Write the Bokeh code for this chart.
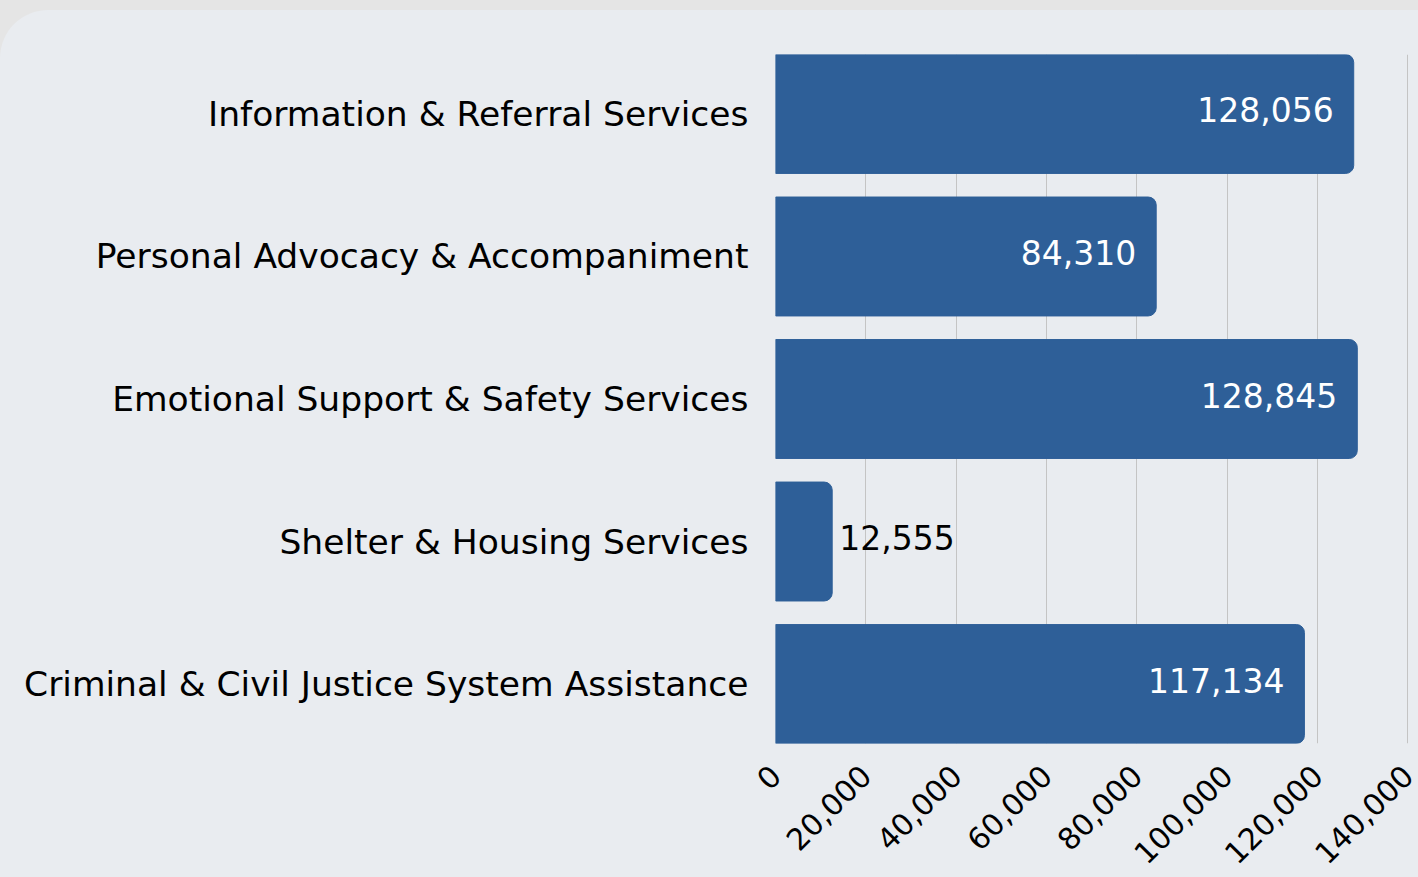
from bokeh.plotting import figure
from bokeh.layouts import column
from bokeh.models import ColumnDataSource, Range1d, FixedTicker, NumeralTickFormatter
from bokeh.core.properties import value
from bokeh.embed import file_html
from bokeh.resources import INLINE
import math

categories = [
    "Information & Referral Services",
    "Personal Advocacy & Accompaniment",
    "Emotional Support & Safety Services",
    "Shelter & Housing Services",
    "Criminal & Civil Justice System Assistance",
]
values = [128056, 84310, 128845, 12555, 117134]
x_ticks = [0, 20000, 40000, 60000, 80000, 100000, 120000, 140000]

FONT = "DejaVu Sans"
BAR = "#2e5f98"
PANEL = "#e9ecf0"
OUTER = "#e5e5e5"

n = len(categories)
ypos = list(range(n))
h = 0.8345

inside = [v > 20000 for v in values]
src = ColumnDataSource(dict(
    y=ypos,
    v=values,
    lab=[f"{v:,}" for v in values],
    col=["white" if i else "black" for i in inside],
    align=["right" if i else "left" for i in inside],
    xoff=[-20 if i else 7 for i in inside],
))

p = figure(width=1418, height=867, output_backend="svg", toolbar_location=None,
           x_range=Range1d(0, 142400), y_range=Range1d(n - 1 + h / 2, -h / 2),
           min_border_left=775, min_border_right=0, min_border_top=44, min_border_bottom=134)
p.background_fill_color = PANEL
p.border_fill_alpha = 0
p.outline_line_color = None
p.styles = {"background-color": PANEL, "border-top-left-radius": "48px"}

p.hbar(y="y", right="v", left=0, height=h, source=src, color=BAR,
       border_radius=(0, 8, 8, 0))

p.text(x="v", y="y", text="lab", source=src, text_color="col", text_align="align",
       x_offset="xoff", y_offset=-4, text_baseline="middle",
       text_font=value(FONT), text_font_size="33px")

p.xaxis.ticker = FixedTicker(ticks=x_ticks)
p.xaxis.formatter = NumeralTickFormatter(format="0,0")
p.xaxis.major_label_orientation = math.pi / 4
p.xaxis.axis_line_color = None
p.xaxis.major_tick_line_color = None
p.xaxis.minor_tick_line_color = None
p.xaxis.major_label_text_font = FONT
p.xaxis.major_label_text_font_size = "30px"
p.xaxis.major_label_text_color = "black"
p.xaxis.major_label_standoff = 21

p.yaxis.ticker = FixedTicker(ticks=ypos)
p.yaxis.major_label_overrides = {i: c for i, c in enumerate(categories)}
p.yaxis.axis_line_color = None
p.yaxis.major_tick_line_color = None
p.yaxis.minor_tick_line_color = None
p.yaxis.major_label_text_font = FONT
p.yaxis.major_label_text_font_size = "34.5px"
p.yaxis.major_label_text_color = "black"
p.yaxis.major_label_standoff = 21

p.xgrid.ticker = FixedTicker(ticks=x_ticks)
p.xgrid.grid_line_color = "#c4c4c4"
p.ygrid.grid_line_color = None

layout = column(p, styles={"background-color": OUTER, "padding-top": "10px"})

open("out.html", "w").write(file_html(layout, INLINE))
